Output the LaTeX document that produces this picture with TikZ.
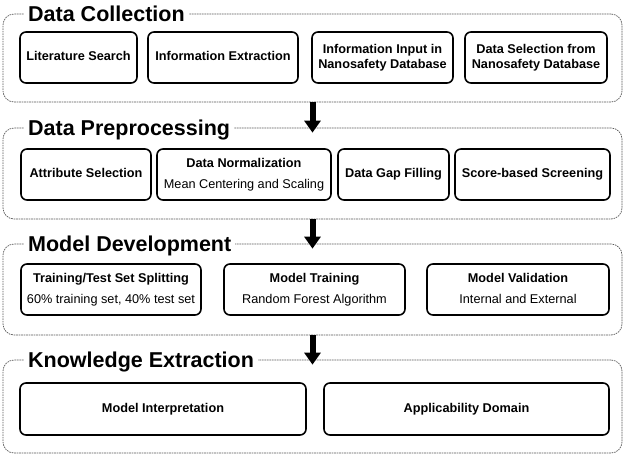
\documentclass[tikz,border=0pt]{standalone}
\usepackage{fontspec}
\setmainfont{Liberation Sans}
\usetikzlibrary{arrows.meta,positioning}

\begin{document}
\begin{tikzpicture}[x=1pt, y=-1pt, line join=round,
  panel/.style={draw=gray!70!black, line width=0.7pt, dash pattern=on 1.6pt off 0.9pt,
    rounded corners=11pt, minimum width=619pt, inner sep=0pt},
  heading/.style={fill=white, anchor=base west, inner xsep=4pt, inner ysep=2pt,
    font=\fontsize{21.5}{24}\selectfont\bfseries},
  box/.style={draw, line width=1.6pt, rounded corners=6pt, minimum height=51pt,
    inner sep=0pt, text depth=2.7pt, align=center, font=\fontsize{12.7}{14.5}\selectfont},
  boldbox/.style={box, font=\fontsize{12.7}{14.5}\selectfont\bfseries},
  flow/.style={line width=6pt, -{Triangle[width=16pt,length=12pt]}}
]

\useasboundingbox (0,0) rectangle (625,455);

%--- Panels (dashed frames) ---
\node[panel, minimum height=88pt] (dc) at (312.5,58)    {};
\node[panel, minimum height=91pt] (dp) at (312.5,173.5) {};
\node[panel, minimum height=91pt] (md) at (312.5,289.5) {};
\node[panel, minimum height=93pt] (ke) at (312.5,406.5) {};

%--- Panel titles (sit on the top line) ---
\node[heading] (dctitle) at (24,21.5)  {Data Collection};
\node[heading] (dptitle) at (24,135.5) {Data Preprocessing};
\node[heading] (mdtitle) at (24,251.5) {Model Development};
\node[heading] (ketitle) at (24,367.5) {Knowledge Extraction};

%--- Data collection ---
\node[boldbox, minimum width=117pt] (lit)    at (78.5,57.5)  {Literature Search};
\node[boldbox, minimum width=150pt] (info)   at (223,57.5)   {Information Extraction};
\node[boldbox, minimum width=141pt] (input)  at (382.5,57.5) {Information Input in\\Nanosafety Database};
\node[boldbox, minimum width=142pt] (select) at (536,57.5)   {Data Selection from\\Nanosafety Database};

%--- Data preprocessing ---
\node[boldbox, minimum width=130pt] (attr)  at (86,174.5)    {Attribute Selection};
\node[box,     minimum width=174pt] (norm)  at (244,174.5)   {\textbf{Data Normalization}\\[6pt]Mean Centering and Scaling};
\node[boldbox, minimum width=111pt] (gap)   at (393.5,174.5) {Data Gap Filling};
\node[boldbox, minimum width=155pt] (score) at (532.5,174.5) {Score-based Screening};

%--- Model development ---
\node[box, minimum width=180pt] (split) at (111,289.5)   {\textbf{Training/Test Set Splitting}\\[6pt]60\% training set, 40\% test set};
\node[box, minimum width=181pt] (train) at (314.5,289.5) {\textbf{Model Training}\\[6pt]Random Forest Algorithm};
\node[box, minimum width=182pt] (valid) at (518,289.5)   {\textbf{Model Validation}\\[6pt]Internal and External};

%--- Knowledge extraction ---
\node[boldbox, minimum width=286pt, minimum height=52pt] (interp) at (163,409)   {Model Interpretation};
\node[boldbox, minimum width=285pt, minimum height=52pt] (domain) at (466.5,409) {Applicability Domain};

%--- Flow between panels ---
\draw[flow] (dc.south) -- ([yshift=-5pt]dp.north);
\draw[flow] (dp.south) -- ([yshift=-5pt]md.north);
\draw[flow] (md.south) -- ([yshift=-5pt]ke.north);

\end{tikzpicture}
\end{document}
